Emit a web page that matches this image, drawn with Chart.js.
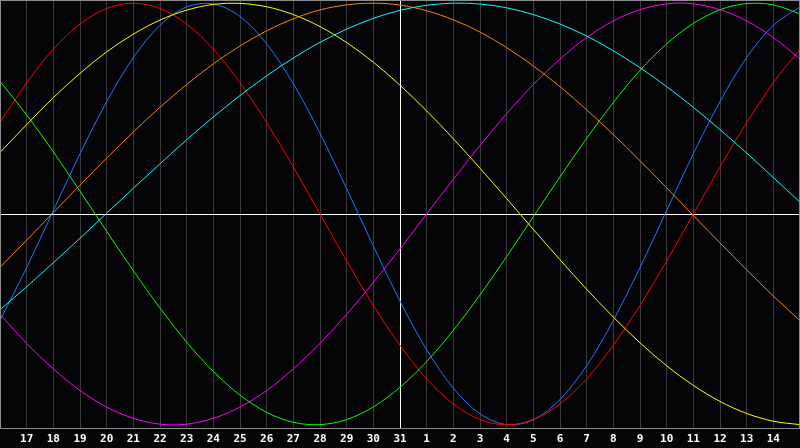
<!DOCTYPE html>
<html>
<head>
<meta charset="utf-8">
<script src="https://cdn.jsdelivr.net/npm/chart.js@4/dist/chart.umd.min.js"></script>
<style>
  html, body { margin: 0; padding: 0; background: #050508; }
  canvas { display: block; }
</style>
</head>
<body>
<canvas id="bio" width="800" height="448"></canvas>
<script>
// day labels, 16th of one month to the 15th of the next
const days = ['16', '17', '18', '19', '20', '21', '22', '23', '24', '25', '26', '27', '28', '29', '30', '31',
              '1', '2', '3', '4', '5', '6', '7', '8', '9', '10', '11', '12', '13', '14', '15'];
const todayIndex = 15;

// cycle values in percent, one per day
const physical = [-50.5, -25.4, 1.6, 28.6, 53.3, 74.2, 89.5, 98.2, 99.6, 93.7, 80.7, 61.8, 38.3, 12.0, -15.2, -41.3,
                  -64.4, -82.6, -94.8, -99.9, -97.6, -88.0, -71.9, -50.5, -25.4, 1.6, 28.6, 53.3, 74.2, 89.5, 98.2];
const emotional = [43.4, 62.3, 78.2, 90.1, 97.5, 100, 97.5, 90.1, 78.2, 62.3, 43.4, 22.3, 0, -22.3, -43.4, -62.3,
                   -78.2, -90.1, -97.5, -100, -97.5, -90.1, -78.2, -62.3, -43.4, -22.3, 0, 22.3, 43.4, 62.3, 78.2];
const intellectual = [62.9, 47.0, 29.5, 10.8, -8.2, -26.9, -44.6, -60.8, -74.7, -85.9, -94.1, -98.8, -99.9, -97.5, -91.5, -82.2,
                      -70.0, -55.2, -38.4, -20.2, -1.3, 17.6, 35.9, 52.9, 68.1, 80.7, 90.4, 96.9, 99.8, 99.2, 94.9];
const intuitive = [-47.6, -61.4, -73.5, -83.7, -91.6, -96.9, -99.7, -99.7, -96.9, -91.6, -83.7, -73.5, -61.4, -47.6, -32.5, -16.5,
                   0, 16.5, 32.5, 47.6, 61.4, 73.5, 83.7, 91.6, 96.9, 99.7, 99.7, 96.9, 91.6, 83.7, 73.5];
const aesthetic = [29.2, 42.4, 55.2, 66.7, 76.9, 85.3, 92.0, 96.7, 99.4, 99.9, 98.3, 94.6, 88.9, 81.3, 72.0, 61.1,
                   48.9, 35.7, 21.7, 7.3, -7.3, -21.7, -35.7, -48.9, -61.1, -72.0, -81.3, -88.9, -94.6, -98.3, -99.9];
const awareness = [-25.3, -12.4, 0.7, 13.7, 26.5, 38.9, 50.6, 61.4, 71.2, 79.7, 86.9, 92.6, 96.8, 99.2, 100, 99.1,
                   96.4, 92.1, 86.3, 78.9, 70.2, 60.4, 49.4, 37.7, 25.3, 12.4, -0.7, -13.7, -26.5, -38.9, -50.6];
const spiritual = [-45.4, -34.5, -23.1, -11.5, 0.4, 12.2, 23.8, 35.2, 46.0, 56.2, 65.5, 74.0, 81.4, 87.7, 92.8, 96.6,
                   99.0, 100, 99.6, 97.8, 94.6, 90.1, 84.4, 77.4, 69.4, 60.4, 50.6, 40.0, 28.9, 17.3, 5.6];

const series = [
  { label: 'Spiritual', data: spiritual, color: '#00ffff' },
  { label: 'Awareness', data: awareness, color: '#ff8000' },
  { label: 'Aesthetic', data: aesthetic, color: '#ffff00' },
  { label: 'Intuitive', data: intuitive, color: '#ff00ff' },
  { label: 'Intellectual', data: intellectual, color: '#00ff00' },
  { label: 'Emotional', data: emotional, color: '#ff0000' },
  { label: 'Physical', data: physical, color: '#1e78ff' }
];

// grey frame round the plot
const frame = {
  id: 'frame',
  afterDraw(chart) {
    const { ctx, chartArea: a } = chart;
    ctx.save();
    ctx.strokeStyle = '#8c8c8c';
    ctx.lineWidth = 1;
    ctx.strokeRect(a.left + 0.5, a.top + 0.5, a.right - a.left - 1, a.bottom - a.top);
    ctx.restore();
  }
};

new Chart(document.getElementById('bio'), {
  type: 'line',
  data: {
    labels: days,
    datasets: series.map(s => ({
      label: s.label,
      data: s.data,
      borderColor: s.color,
      borderWidth: 1,
      pointRadius: 0,
      tension: 0.33,
      fill: false
    }))
  },
  options: {
    responsive: false,
    animation: false,
    layout: { padding: 0 },
    plugins: { legend: { display: false }, tooltip: { enabled: false } },
    scales: {
      x: {
        offset: false,
        afterFit: scale => {
          scale.height = 20;
          scale.paddingLeft = 0;   // plot runs edge to edge
          scale.paddingRight = 0;
        },
        border: { display: false },
        grid: {
          drawTicks: false,
          lineWidth: 1,
          color: ctx => ctx.index === todayIndex ? '#ffffff' : '#3a3a3a'
        },
        ticks: {
          autoSkip: false,
          maxRotation: 0,
          padding: 5,
          color: '#ffffff',
          font: { family: 'DejaVu Sans Mono', size: 11, weight: 'bold' },
          callback: (v, i) => (i === 0 || i === days.length - 1) ? '' : days[i]
        }
      },
      y: {
        min: -101.5,
        max: 101.5,
        afterFit: scale => { scale.width = 0; },
        border: { display: false },
        grid: {
          drawTicks: false,
          lineWidth: 1,
          color: ctx => ctx.tick && ctx.tick.value === 0 ? '#ffffff' : 'rgba(0,0,0,0)'
        },
        ticks: { display: false, stepSize: 50 }
      }
    }
  },
  plugins: [frame]
});
</script>
</body>
</html>
